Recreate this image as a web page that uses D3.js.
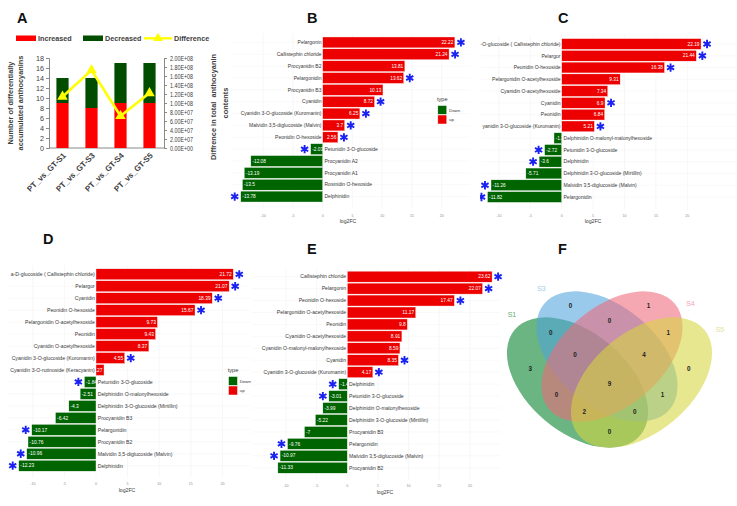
<!DOCTYPE html>
<html><head><meta charset="utf-8">
<script src="https://cdn.jsdelivr.net/npm/d3@7"></script>
<style>
body{margin:0;background:#fff}
svg{display:block}
text{font-family:"Liberation Sans",Arial,sans-serif}
</style>
</head><body>
<svg id="c" width="737" height="506"></svg>
<script>
// ---------------- DATA ----------------
const aGroups = ["PT_vs_GT-S1","PT_vs_GT-S3","PT_vs_GT-S4","PT_vs_GT-S5"];
const aIncreased = [9, 8, 9, 9];
const aDecreased = [5, 6, 8, 8];
const aDifference = [1.14e8, 1.73e8, 0.71e8, 1.22e8];
const aLeftTicks = [0,2,4,6,8,10,12,14,16,18];
const aRightTicks = [0,2e7,4e7,6e7,8e7,1e8,1.2e8,1.4e8,1.6e8,1.8e8,2e8];
const aRightTickLabels = ["0.00E+00","2.00E+07","4.00E+07","6.00E+07","8.00E+07","1.00E+08","1.20E+08","1.40E+08","1.60E+08","1.80E+08","2.00E+08"];
const aLegend = ["Increased","Decreased","Difference"];

const fcTicks = [-10,-5,0,5,10,15,20];

const bNames = ["Pelargonin","Callistephin chloride","Procyanidin B2","Pelargonidin","Procyanidin B3","Cyanidin","Cyanidin 3-O-glucoside (Kuromanin)","Malvidin 3,5-diglucoside (Malvin)","Peonidin O-hexoside","Petunidin 3-O-glucoside","Procyanidin A2","Procyanidin A1","Rosinidin O-hexoside","Delphinidin"];
const bValues = [22.22,21.24,13.81,13.62,10.13,8.72,6.25,3.7,2.56,-2.03,-12.08,-13.19,-13.5,-13.78];
const bSig = [1,1,0,1,0,1,1,1,1,1,0,0,0,1];

const cNames = ["-O-glucoside ( Callistephin chloride)","Pelargor","Peonidin O-hexoside","Pelargonidin O-acetylhexoside","Cyanidin O-acetylhexoside","Cyanidin","Peonidin","yanidin 3-O-glucoside (Kuromanin)","Delphinidin O-malonyl-malonylhexoside","Petunidin 3-O-glucoside","Delphinidin","Delphinidin 3-O-glucoside (Mirtillin)","Malvidin 3,5-diglucoside (Malvin)","Pelargonidin"];
const cValues = [22.19,21.44,16.38,9.31,7.34,6.9,6.84,5.21,-1.23,-2.72,-3.6,-5.71,-11.26,-11.82];
const cSig = [1,1,1,0,0,1,0,1,0,1,1,0,1,1];

const dNames = ["a-D-glucoside ( Callistephin chloride)","Pelargor","Cyanidin","Peonidin O-hexoside","Pelargonidin O-acetylhexoside","Peonidin","Cyanidin O-acetylhexoside","Cyanidin 3-O-glucoside (Kuromanin)","Cyanidin 3-O-rutinoside (Keracyanin)","Petunidin 3-O-glucoside","Delphinidin O-malonylhexoside","Delphinidin 3-O-glucoside (Mirtillin)","Procyanidin B3","Pelargonidin","Procyanidin B2","Malvidin 3,5-diglucoside (Malvin)","Delphinidin"];
const dValues = [21.72,21.07,18.39,15.67,9.73,9.43,8.37,4.55,1.27,-1.84,-2.51,-4.3,-6.42,-10.17,-10.76,-10.96,-12.23];
const dSig = [1,1,1,1,0,0,0,1,0,1,0,0,0,1,0,1,1];

const eNames = ["Callistephin chloride","Pelargonin","Peonidin O-hexoside","Pelargonidin O-acetylhexoside","Peonidin","Cyanidin O-acetylhexoside","Cyanidin O-malonyl-malonylhexoside","Cyanidin","Cyanidin 3-O-glucoside (Kuromanin)","Delphinidin","Petunidin 3-O-glucoside","Delphinidin O-malonylhexoside","Delphinidin 3-O-glucoside (Mirtillin)","Procyanidin B3","Pelargonidin","Malvidin 3,5-diglucoside (Malvin)","Procyanidin B2"];
const eValues = [23.62,22.07,17.47,11.17,9.8,8.91,8.59,8.35,4.17,-1.4,-3.01,-3.99,-5.22,-7,-9.76,-10.97,-11.33];
const eSig = [1,1,1,0,0,0,0,1,1,1,1,0,0,0,1,1,0];

const vennSets = ["S1","S3","S4","S5"];
const vennRegions = ["1000","0100","0010","0001","1100","0110","0011","1010","0101","1001","1110","0111","1011","1101","1111"];
const vennCounts  = [3,0,1,0,0,0,1,0,1,0,0,4,2,0,9];

// ---------------- DRAW ----------------
const svg = d3.select("#c");
const RED = "#ec0000", GREEN = "#006400";

// ---- Panel A ----
(function(){
  const g = svg.append("g");
  const x = d3.scaleBand().domain(aGroups).range([48,164]).paddingInner(0.58).paddingOuter(0.29);
  const y = d3.scaleLinear().domain([0,18]).range([148,58]);
  const y2 = d3.scaleLinear().domain([0,2e8]).range([148,58]);
  const axCol = "#8a8a8a", txt = "#404040";

  const la = g.append("g").attr("transform","translate(49,0)")
    .call(d3.axisLeft(y).tickValues(aLeftTicks).tickSize(3).tickPadding(2));
  la.selectAll("text").attr("font-size",7.2).attr("fill",txt).attr("font-family","Liberation Sans, Arial");
  la.selectAll("line,path").attr("stroke",axCol);
  const ra = g.append("g").attr("transform","translate(164,0)")
    .call(d3.axisRight(y2).tickValues(aRightTicks).tickFormat((d,i)=>aRightTickLabels[i]).tickSize(3).tickPadding(3));
  ra.selectAll("text").attr("font-size",6.4).attr("fill",txt).attr("font-family","Liberation Sans, Arial")
    .attr("textLength",23).attr("lengthAdjust","spacingAndGlyphs");
  ra.selectAll("line,path").attr("stroke",axCol);
  g.append("line").attr("x1",49).attr("x2",164).attr("y1",y(0)).attr("y2",y(0)).attr("stroke",axCol);

  g.selectAll(".inc").data(aGroups).join("rect")
    .attr("x",d=>x(d)).attr("width",x.bandwidth())
    .attr("y",(d,i)=>y(aIncreased[i])).attr("height",(d,i)=>y(0)-y(aIncreased[i])).attr("fill","#ff0000");
  g.selectAll(".dec").data(aGroups).join("rect")
    .attr("x",d=>x(d)).attr("width",x.bandwidth())
    .attr("y",(d,i)=>y(aIncreased[i]+aDecreased[i])).attr("height",(d,i)=>y(aIncreased[i])-y(aIncreased[i]+aDecreased[i])).attr("fill","#004d00");
  const cx = d => x(d)+x.bandwidth()/2;
  g.append("path").datum(aGroups)
    .attr("d", d3.line().x(cx).y((d,i)=>y2(aDifference[i])))
    .attr("fill","none").attr("stroke","#ffff00").attr("stroke-width",2.6);
  g.selectAll(".tri").data(aGroups).join("path")
    .attr("transform",(d,i)=>`translate(${cx(d)},${y2(aDifference[i])})`)
    .attr("d", d3.symbol().type(d3.symbolTriangle).size(48)).attr("fill","#ffff00");

  g.selectAll(".xl").data(aGroups).join("text")
    .attr("transform",d=>`translate(${cx(d)+4},${156}) rotate(-45)`)
    .attr("text-anchor","end").attr("font-size",8).attr("font-weight","bold").attr("fill",txt).text(d=>d);

  const lt = [["Number of differentially",12.5],["accumulated anthocyanins",23]];
  lt.forEach(([t,xx])=>g.append("text").attr("transform",`translate(${xx},103) rotate(-90)`)
    .attr("text-anchor","middle").attr("font-size",7.4).attr("font-weight","bold").attr("fill",txt).text(t));
  g.append("text").attr("transform","translate(215.5,107) rotate(-90)").attr("text-anchor","middle")
    .attr("font-size",7.4).attr("font-weight","bold").attr("fill",txt).style("white-space","pre")
    .text("Diffrence in total  anthocyanin");
  g.append("text").attr("transform","translate(227.5,103) rotate(-90)").attr("text-anchor","middle")
    .attr("font-size",7.4).attr("font-weight","bold").attr("fill",txt).text("contents");

  const lg = g.append("g");
  lg.append("rect").attr("x",16).attr("y",35.5).attr("width",20).attr("height",5.5).attr("fill","#ff0000");
  lg.append("text").attr("x",38).attr("y",41).attr("font-size",7.2).attr("font-weight","bold").attr("fill",txt).text(aLegend[0]);
  lg.append("rect").attr("x",83).attr("y",35.5).attr("width",20).attr("height",5.5).attr("fill","#004d00");
  lg.append("text").attr("x",105).attr("y",41).attr("font-size",7.2).attr("font-weight","bold").attr("fill",txt).text(aLegend[1]);
  lg.append("line").attr("x1",144).attr("x2",172).attr("y1",38.3).attr("y2",38.3).attr("stroke","#ffff00").attr("stroke-width",2.4);
  lg.append("path").attr("transform","translate(158,38.3)").attr("d",d3.symbol().type(d3.symbolTriangle).size(40)).attr("fill","#ffff00");
  lg.append("text").attr("x",174).attr("y",41).attr("font-size",7.2).attr("font-weight","bold").attr("fill",txt).text(aLegend[2]);
})();

// ---- Diverging bar panels ----
let clipId = 0;
function barPanel(cfg, names, values, sig){
  const g = svg.append("g");
  if (cfg.clip){
    const id = "clip"+(clipId++);
    svg.append("clipPath").attr("id",id).append("rect")
      .attr("x",cfg.clip[0]).attr("y",cfg.clip[1]).attr("width",cfg.clip[2]).attr("height",cfg.clip[3]);
    g.attr("clip-path",`url(#${id})`);
  }
  const fs = cfg.fs;
  const x = d3.scaleLinear().domain([-10,20]).range([cfg.zero-10*cfg.k, cfg.zero+20*cfg.k]);
  const idx = d3.range(names.length);
  const y = d3.scaleBand().domain(idx).range(cfg.yRange).paddingInner(0.08).paddingOuter(0.04);
  const top = cfg.yRange[0]-3, bot = cfg.yRange[1]+6;
  g.selectAll(".vg").data(fcTicks).join("line")
    .attr("x1",d=>x(d)).attr("x2",d=>x(d)).attr("y1",top).attr("y2",bot)
    .attr("stroke","#eeeeee").attr("stroke-width",0.5);
  g.selectAll(".hg").data(idx).join("line")
    .attr("x1",cfg.left).attr("x2",cfg.right).attr("y1",i=>y(i)+y.bandwidth()/2).attr("y2",i=>y(i)+y.bandwidth()/2)
    .attr("stroke","#f2f2f2").attr("stroke-width",0.5);
  g.selectAll(".bar").data(idx).join("rect")
    .attr("x",i=>Math.min(x(0),x(values[i]))).attr("width",i=>Math.abs(x(values[i])-x(0)))
    .attr("y",i=>y(i)).attr("height",y.bandwidth())
    .attr("fill",i=>values[i]>=0?RED:GREEN).attr("stroke","#ffffff").attr("stroke-width",0.4);
  g.selectAll(".val").data(idx).join("text")
    .attr("x",i=>values[i]>=0 ? x(values[i])-1.6 : x(values[i])+1.6)
    .attr("y",i=>y(i)+y.bandwidth()/2).attr("dy","0.35em")
    .attr("text-anchor",i=>values[i]>=0?"end":"start")
    .attr("font-size",fs*0.95).attr("fill","#ffffff").text(i=>String(values[i]));
  g.selectAll(".nm").data(idx).join("text")
    .attr("x",i=>values[i]>=0 ? x(0)-1.2 : x(0)+1.8)
    .attr("y",i=>y(i)+y.bandwidth()/2).attr("dy","0.35em")
    .attr("text-anchor",i=>values[i]>=0?"end":"start")
    .attr("font-size",fs).attr("fill","#3a3a3a").text(i=>names[i]);
  g.selectAll(".star").data(idx.filter(i=>sig[i])).join("path")
    .attr("transform",i=>`translate(${values[i]>=0 ? x(values[i])+6 : x(values[i])-6},${y(i)+y.bandwidth()/2})`)
    .attr("d",d3.symbol().type(d3.symbolAsterisk).size(48))
    .attr("fill","none").attr("stroke","#1a22f2").attr("stroke-width",1.9);
  g.selectAll(".tk").data(fcTicks).join("text")
    .attr("x",d=>x(d)).attr("y",cfg.tickY).attr("text-anchor","middle")
    .attr("font-size",3.6).attr("fill","#8c8c8c").text(d=>d);
  g.append("text").attr("x",cfg.titleX).attr("y",cfg.titleY).attr("text-anchor","middle")
    .attr("font-size",5.2).attr("fill","#3a3a3a").text("log2FC");
  if (cfg.legend){
    const [lx,ly] = cfg.legend;
    const lg = g.append("g");
    lg.append("text").attr("x",lx).attr("y",ly).attr("font-size",5.6).attr("fill","#3a3a3a").text("type");
    lg.append("rect").attr("x",lx+0.8).attr("y",ly+4.5).attr("width",9).attr("height",9).attr("fill",GREEN).attr("stroke","#fff").attr("stroke-width",0.5);
    lg.append("rect").attr("x",lx+0.8).attr("y",ly+14).attr("width",9).attr("height",9).attr("fill",RED).attr("stroke","#fff").attr("stroke-width",0.5);
    lg.append("text").attr("x",lx+12).attr("y",ly+10.5).attr("font-size",4.4).attr("fill","#3a3a3a").text("Down");
    lg.append("text").attr("x",lx+12).attr("y",ly+20).attr("font-size",4.4).attr("fill","#3a3a3a").text("up");
  }
}

barPanel({zero:322.7,k:5.95,fs:5.0,yRange:[36.5,202.5],left:232,right:470,tickY:216.5,titleX:348,titleY:222.5,legend:[437,101]},
  bNames,bValues,bSig);
barPanel({zero:561.7,k:6.28,fs:5.05,yRange:[38.1,202.9],left:481,right:737,tickY:216.5,titleX:593,titleY:222.5,clip:[480,0,257,250]},
  cNames,cValues,cSig);
barPanel({zero:96,k:6.32,fs:5.15,yRange:[268.3,471.7],left:7,right:250,tickY:485,titleX:127,titleY:491.5,legend:[227.7,372]},
  dNames,dValues,dSig);
barPanel({zero:347.3,k:6.13,fs:5.12,yRange:[270.7,473.7],left:252,right:500,tickY:487,titleX:385,titleY:493.5},
  eNames,eValues,eSig);

// ---- Panel F (Venn) ----
(function(){
  const g = svg.append("g");
  const ell = [
    {cx:577.5, cy:382.5, a:82, b:50, rot:40,  fill:"rgb(0,127,40)",   label:"#5fae74"},
    {cx:607,   cy:356.5, a:82, b:50, rot:40,  fill:"rgb(80,163,222)", label:"#a3cbe8"},
    {cx:612,   cy:356.5, a:82, b:50, rot:-40, fill:"rgb(238,105,122)",label:"#f3a6b3"},
    {cx:641.5, cy:382.5, a:82, b:50, rot:-40, fill:"rgb(213,213,63)", label:"#e3e39a"}
  ];
  g.selectAll("ellipse").data(ell).join("ellipse")
    .attr("transform",e=>`translate(${e.cx},${e.cy}) rotate(${e.rot})`)
    .attr("rx",e=>e.a).attr("ry",e=>e.b).attr("fill",e=>e.fill).attr("fill-opacity",0.58);

  g.selectAll(".sl").data(ell).join("text")
    .attr("transform",e=>{
      const r = e.rot*Math.PI/180, s = e.rot>0?-1:1;
      const u = s*(e.a+12), vv = e.rot>0 ? -10 : 10;
      const px = e.cx + u*Math.cos(r) - vv*Math.sin(r);
      const py = e.cy + u*Math.sin(r) + vv*Math.cos(r);
      return `translate(${px},${py})`;
    })
    .attr("text-anchor","middle").attr("dy","0.35em").attr("font-size",7).attr("fill",e=>e.label)
    .text((e,i)=>vennSets[i]);

  const inside = (e,px,py)=>{
    const r = e.rot*Math.PI/180, dx=px-e.cx, dy=py-e.cy;
    const u = dx*Math.cos(r)+dy*Math.sin(r), v = -dx*Math.sin(r)+dy*Math.cos(r);
    return (u*u)/(e.a*e.a)+(v*v)/(e.b*e.b) <= 1;
  };
  const keyAt = (px,py)=>ell.map(e=>inside(e,px,py)?"1":"0").join("");
  const X0=490, Y0=270, W=250, H=200;
  const key = new Array(W*H), dist = new Float32Array(W*H);
  for (let j=0;j<H;j++) for (let i=0;i<W;i++) key[j*W+i] = keyAt(X0+i,Y0+j);
  for (let j=0;j<H;j++) for (let i=0;i<W;i++){
    const id=j*W+i; let bd=false;
    if (i==0||j==0||i==W-1||j==H-1) bd=true;
    else if (key[id-1]!==key[id]||key[id+1]!==key[id]||key[id-W]!==key[id]||key[id+W]!==key[id]) bd=true;
    dist[id] = bd?0:1e9;
  }
  const D1=1, D2=Math.SQRT2;
  for (let j=1;j<H;j++) for (let i=1;i<W-1;i++){
    const id=j*W+i;
    dist[id]=Math.min(dist[id],dist[id-1]+D1,dist[id-W]+D1,dist[id-W-1]+D2,dist[id-W+1]+D2);
  }
  for (let j=H-2;j>=0;j--) for (let i=W-2;i>=1;i--){
    const id=j*W+i;
    dist[id]=Math.min(dist[id],dist[id+1]+D1,dist[id+W]+D1,dist[id+W+1]+D2,dist[id+W-1]+D2);
  }
  const best = {}, sum = {};
  for (let id=0;id<W*H;id++){
    const k=key[id], px=X0+id%W, py=Y0+Math.floor(id/W);
    if (!best[k] || dist[id]>best[k].d) best[k]={d:dist[id],x:px,y:py};
    if (!sum[k]) sum[k]={x:0,y:0,n:0};
    sum[k].x+=px; sum[k].y+=py; sum[k].n++;
  }
  const pos = {};
  vennRegions.forEach(k=>{
    if (!sum[k]) return;
    const c = {x:sum[k].x/sum[k].n, y:sum[k].y/sum[k].n};
    const ci = Math.round(c.x)-X0, cj = Math.round(c.y)-Y0;
    const ok = key[cj*W+ci]===k && dist[cj*W+ci] >= 0.45*best[k].d;
    pos[k] = ok ? c : {x:(c.x+best[k].x)/2, y:(c.y+best[k].y)/2};
    const m = pos[k]; const mi=Math.round(m.x)-X0, mj=Math.round(m.y)-Y0;
    if (key[mj*W+mi]!==k) pos[k] = best[k];
  });
  g.selectAll(".rl").data(vennRegions.filter(k=>pos[k])).join("text")
    .attr("x",k=>pos[k].x).attr("y",k=>pos[k].y).attr("dy","0.35em").attr("text-anchor","middle")
    .attr("font-size",6.3).attr("font-weight","bold").attr("fill","#222")
    .text(k=>vennCounts[vennRegions.indexOf(k)]);
})();

// ---- Panel letters ----
const letters = [["A",17,22.5],["B",307,22.5],["C",558,22.5],["D",43,244],["E",307,254],["F",558,254]];
svg.selectAll(".pl").data(letters).join("text")
  .attr("x",d=>d[1]).attr("y",d=>d[2]).attr("font-size",14.5).attr("font-weight","bold").attr("fill","#111").text(d=>d[0]);
</script>
</body></html>
